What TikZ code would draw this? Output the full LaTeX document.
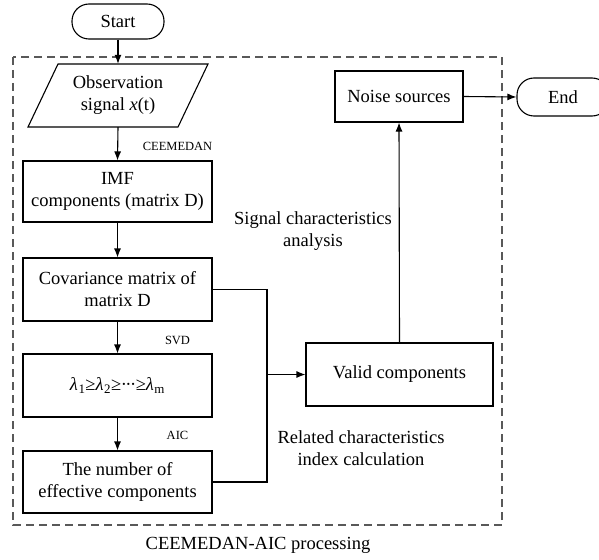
\documentclass[tikz,border=0pt]{standalone}
\usepackage{fontspec}
\setmainfont{Liberation Serif}
\usetikzlibrary{arrows.meta}
\newcommand{\mylam}[1]{\textit{λ}\kern0.5pt\textsubscript{#1}}
\newcommand{\mydots}{\kern-0.5pt·\kern-1.5pt·\kern-1.5pt·\kern-0.5pt}
\begin{document}
\begin{tikzpicture}[x=1pt,y=-1pt,
  box/.style={draw, line width=1.1pt, align=center, font=\fontsize{18.5}{22}\selectfont, inner sep=0pt},
  term/.style={box, rounded corners=17pt},
  lbl/.style={font=\fontsize{12.5}{15}\selectfont, inner sep=0pt},
  txt/.style={align=center, font=\fontsize{18.5}{22}\selectfont, inner sep=0pt},
  arr/.style={line width=1.1pt, -{Latex[length=9pt,width=7pt]}},
  ln/.style={line width=1.1pt},
  frame/.style={draw=black!65, line width=1.1pt, dash pattern=on 8pt off 5pt}]
\useasboundingbox (0,0) rectangle (599,559);
% dashed frame
\draw[frame] (13,57) rectangle (502,525);
% nodes
\node[term, minimum width=92pt, minimum height=35pt] (start) at (118,21.5) {Start};
\draw[ln] (58,64) -- (208,64) -- (178,127) -- (28,127) -- cycle;
\node[txt, minimum width=120pt, minimum height=63pt] (obs) at (118,95.5) {Observation\\signal \textit{x}(t)};
\node[box, minimum width=189pt, minimum height=61pt] (imf) at (117.5,191.5) {IMF\\components (matrix D)};
\node[box, minimum width=189pt, minimum height=63pt] (cov) at (117.5,289.5) {Covariance matrix of\\matrix D};
\node[box, minimum width=189pt, minimum height=63pt] (lam) at (117.5,385.5) {\mylam{1}≥\mylam{2}≥\mydots≥\mylam{m}};
\node[box, minimum width=189pt, minimum height=62pt] (num) at (117.5,482) {The number of\\effective components};
\node[box, minimum width=187pt, minimum height=63pt] (valid) at (399.5,374.5) {Valid components};
\node[box, minimum width=128pt, minimum height=51pt] (noise) at (399,96.5) {Noise sources};
\node[term, minimum width=92pt, minimum height=38pt] (end) at (563,97) {End};
% labels
\node[lbl] (l1) at (177.5,146) {CEEMEDAN};
\node[lbl] (l2) at (177.5,340) {SVD};
\node[lbl] (l3) at (177.5,435) {AIC};
\node[txt] (l4) at (313,231.5) {Signal characteristics\\analysis};
\node[txt] (l5) at (361,448) {Related characteristics\\index calculation};
\node[txt] (l6) at (258,545) {CEEMEDAN-AIC processing};
% connectors
\draw[arr] (start.south) -- (obs.north);
\draw[arr] (obs.south) -- (imf.north);
\draw[arr] (imf.south) -- (cov.north);
\draw[arr] (cov.south) -- (lam.north);
\draw[arr] (lam.south) -- (num.north);
\coordinate (j) at (267,374.5);
\draw[ln] (cov.east) -| (j);
\draw[ln] (num.east) -| (j);
\draw[arr] (j) -- (valid.west);
\draw[arr] (valid.north) -- (noise.south);
\draw[arr] (noise.east) -- (end.west);
\end{tikzpicture}
\end{document}
